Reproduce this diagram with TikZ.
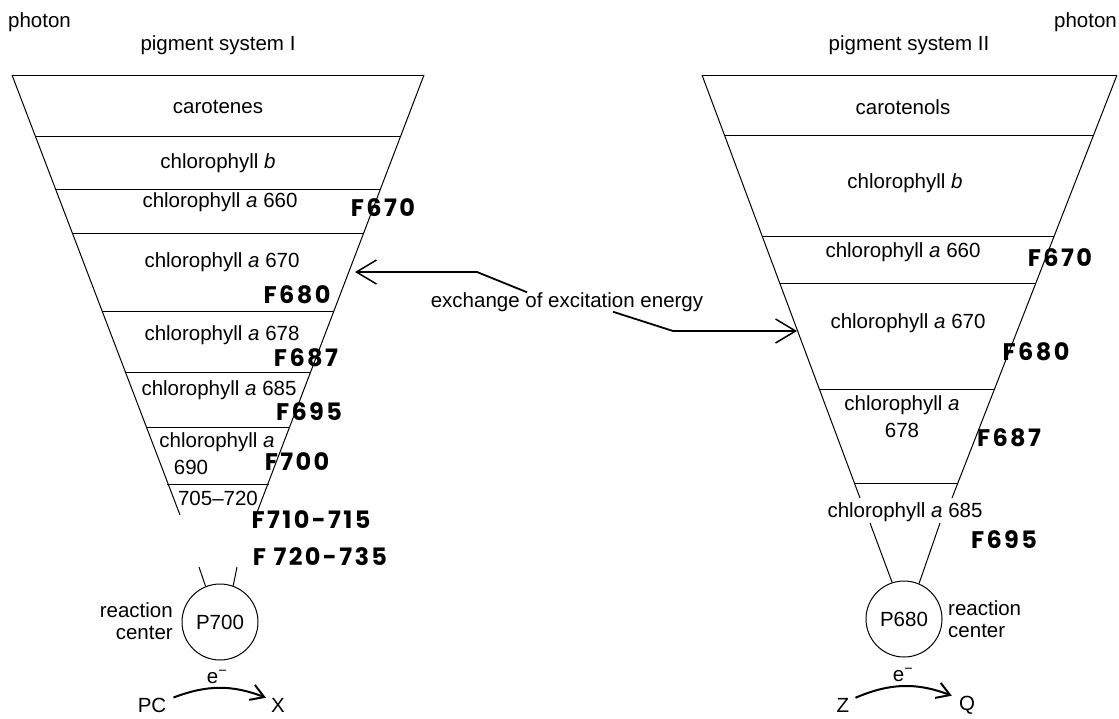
\documentclass[tikz,border=0pt]{standalone}
\usepackage{fontspec}
\setmainfont{Liberation Sans}
\newfontfamily\markerfont[LetterSpace=10]{Poppins}
\usetikzlibrary{arrows.meta}

\tikzset{
  lbl/.style={font=\fontsize{20.5}{22}\selectfont, inner sep=0pt},
  flbl/.style={font=\markerfont\bfseries\fontsize{24}{24}\selectfont, inner sep=0pt},
  bandline/.style={line width=1pt},
  rcircle/.style={draw, circle, line width=1pt, minimum size=76pt, inner sep=0pt,
    font=\fontsize{20.5}{22}\selectfont},
  exarrow/.style={line width=1.8pt, -{Straight Barb[length=20pt,width=24pt,line width=1.5pt]}},
  earrow/.style={line width=2pt, -{Straight Barb[length=13pt,width=16pt]}},
}

\begin{document}
\begin{tikzpicture}[x=1pt, y=-1pt]
    \useasboundingbox (0,0) rectangle (1119,718);

    % pigment system I
    \node[lbl, anchor=west] (photonI) at (8,22) {photon};
    \node[lbl] (psI) at (218,45) {pigment system I};
    \draw[bandline] (12,75) -- (180,515);
    \draw[bandline] (424,75) -- (256,515);
    \foreach \yy in {75,136,189,233,311,372,427,484}
        \draw[bandline] ({12+0.38*(\yy-75)},\yy) -- ({424-0.38*(\yy-75)},\yy);

    \node[lbl] (carI) at (218,107) {carotenes};
    \node[lbl] (chlbI) at (218,163) {chlorophyll \textit{b}};
    \node[lbl] (c660I) at (220,202) {chlorophyll \textit{a} 660};
    \node[lbl] (c670I) at (222,262) {chlorophyll \textit{a} 670};
    \node[lbl] (c678I) at (222,335) {chlorophyll \textit{a} 678};
    \node[lbl] (c685I) at (219,390) {chlorophyll \textit{a} 685};
    \node[lbl] (c690I) at (217,442) {chlorophyll \textit{a}};
    \node[lbl] (n690I) at (191,467) {690};
    \node[lbl] (c705I) at (218,498) {705--720};

    \node[flbl] (f670I) at (383,208) {F670};
    \node[flbl] (f680I) at (297,295) {F680};
    \node[flbl] (f687I) at (306,358) {F687};
    \node[flbl] (f695I) at (309,412) {F695};
    \node[flbl] (f700I) at (297,462) {F700};
    \node[flbl] (f710I) at (311,520) {F710-715};
    \node[flbl] (f720I) at (320,557) {F 720-735};

    \node[rcircle] (pI) at (220,622) {P700};
    \draw[bandline] (199,567) -- (pI.112);
    \draw[bandline] (237,567) -- (pI.70);
    \node[lbl, align=right, anchor=east] (rcI) at (173,621) {reaction\\center};

    \node[lbl] (eI) at (217,677) {e\textsuperscript{−}};
    \node[lbl] (pc) at (152,705) {PC};
    \node[lbl] (xI) at (278,705) {X};
    \draw[earrow] ([xshift=7pt]pc.north east) to[bend left=21] ([xshift=-5pt]xI.north west);

    % pigment system II
    \node[lbl, anchor=east] (photonII) at (1117,22) {photon};
    \node[lbl] (psII) at (909,45) {pigment system II};
    \draw[bandline] (702,75) -- (860,498);
    \draw[bandline] (1117,75) -- (952,498);
    \foreach \yy in {75,135,236,283,389,483}
        \draw[bandline] ({702+0.3735*(\yy-75)},\yy) -- ({1117-0.39*(\yy-75)},\yy);

    \node[lbl] (carII) at (903,107) {carotenols};
    \node[lbl] (chlbII) at (905,183) {chlorophyll \textit{b}};
    \node[lbl] (c660II) at (903,252) {chlorophyll \textit{a} 660};
    \node[lbl] (c670II) at (908,323) {chlorophyll \textit{a} 670};
    \node[lbl] (c678II) at (902,405) {chlorophyll \textit{a}};
    \node[lbl] (n678II) at (902,430) {678};
    \node[lbl] (c685II) at (905,512) {chlorophyll \textit{a} 685};

    \node[flbl] (f670II) at (1060,258) {F670};
    \node[flbl] (f680II) at (1036,352) {F680};
    \node[flbl] (f687II) at (1009,438) {F687};
    \node[flbl] (f695II) at (1004,540) {F695};

    \node[rcircle] (pII) at (904,619) {P680};
    \draw[bandline] (870,523) -- (pII.108);
    \draw[bandline] (940,523) -- (pII.67);
    \node[lbl, align=left, anchor=west] (rcII) at (948,619) {reaction\\center};

    \node[lbl] (eII) at (903,675) {e\textsuperscript{−}};
    \node[lbl] (z) at (843,705) {Z};
    \node[lbl] (q) at (967,705) {Q};
    \draw[earrow] ([xshift=6pt]z.north east) to[bend left=22] ([xshift=-7pt]q.north west);

    % exchange between the two systems
    \node[lbl] (exch) at (567,302) {exchange of excitation energy};
    \coordinate (inI) at (355,272);
    \coordinate (inII) at (797,331);
    \draw[exarrow] ([xshift=-40pt]exch.north) -- (477,272) -- (inI);
    \draw[exarrow] ([xshift=46pt]exch.south) -- (673,331) -- (inII);
\end{tikzpicture}
\end{document}
